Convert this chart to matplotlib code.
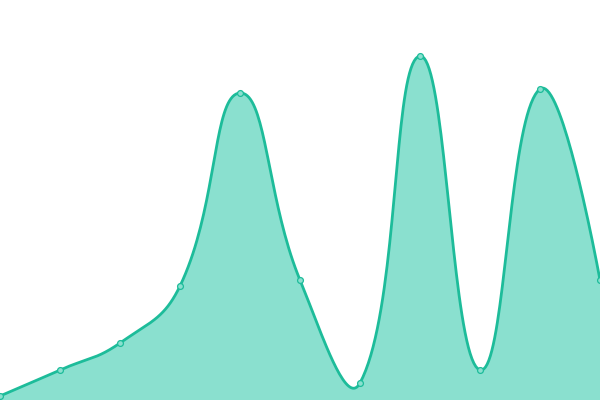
import numpy as np
import matplotlib.pyplot as plt

# values (baseline = 0, top of canvas = 400)
categories = list(range(11))
values = [4, 30, 57, 114, 307, 120, 17, 344, 30, 311, 120]

line_color = '#1dbc9a'
fill_color = '#8ae0cf'


def smooth_path(px, py, smooth=0.45, steps=40):
    # bezier smoothing in screen space, similar to echarts "smooth: true"
    n = len(px)
    cps = []
    for i in range(n):
        if i == 0 or i == n - 1:
            cps.append(((px[i], py[i]), (px[i], py[i])))
            continue
        vx = px[i + 1] - px[i - 1]
        vy = py[i + 1] - py[i - 1]
        d0 = np.hypot(px[i] - px[i - 1], py[i] - py[i - 1])
        d1 = np.hypot(px[i + 1] - px[i], py[i + 1] - py[i])
        r = d1 / (d0 + d1)
        before = (px[i] - vx * smooth * (1 - r), py[i] - vy * smooth * (1 - r))
        after = (px[i] + vx * smooth * r, py[i] + vy * smooth * r)
        cps.append((before, after))
    xs, ys = [], []
    t = np.linspace(0, 1, steps)
    for i in range(n - 1):
        p0 = np.array([px[i], py[i]])
        p1 = np.array(cps[i][1])
        p2 = np.array(cps[i + 1][0])
        p3 = np.array([px[i + 1], py[i + 1]])
        seg = ((1 - t) ** 3)[:, None] * p0 + (3 * (1 - t) ** 2 * t)[:, None] * p1 \
            + (3 * (1 - t) * t ** 2)[:, None] * p2 + (t ** 3)[:, None] * p3
        xs.extend(seg[:, 0])
        ys.extend(seg[:, 1])
    return np.array(xs), np.array(ys)


fig = plt.figure(figsize=(6, 4), dpi=100)
ax = fig.add_axes([0, 0, 1, 1])
ax.set_xlim(0, 10)
ax.set_ylim(0, 400)
ax.axis('off')

disp = ax.transData.transform(np.column_stack([categories, values]))
sx, sy = smooth_path(disp[:, 0], disp[:, 1])
curve = ax.transData.inverted().transform(np.column_stack([sx, sy]))

ax.fill_between(curve[:, 0], 0, curve[:, 1], color=fill_color, lw=0)
ax.plot(curve[:, 0], curve[:, 1], color=line_color, lw=2.0, solid_capstyle='round')
ax.plot(categories, values, 'o', ms=4.2, mfc=fill_color, mec=line_color, mew=0.9,
        clip_on=False)

fig.savefig('out.png')
